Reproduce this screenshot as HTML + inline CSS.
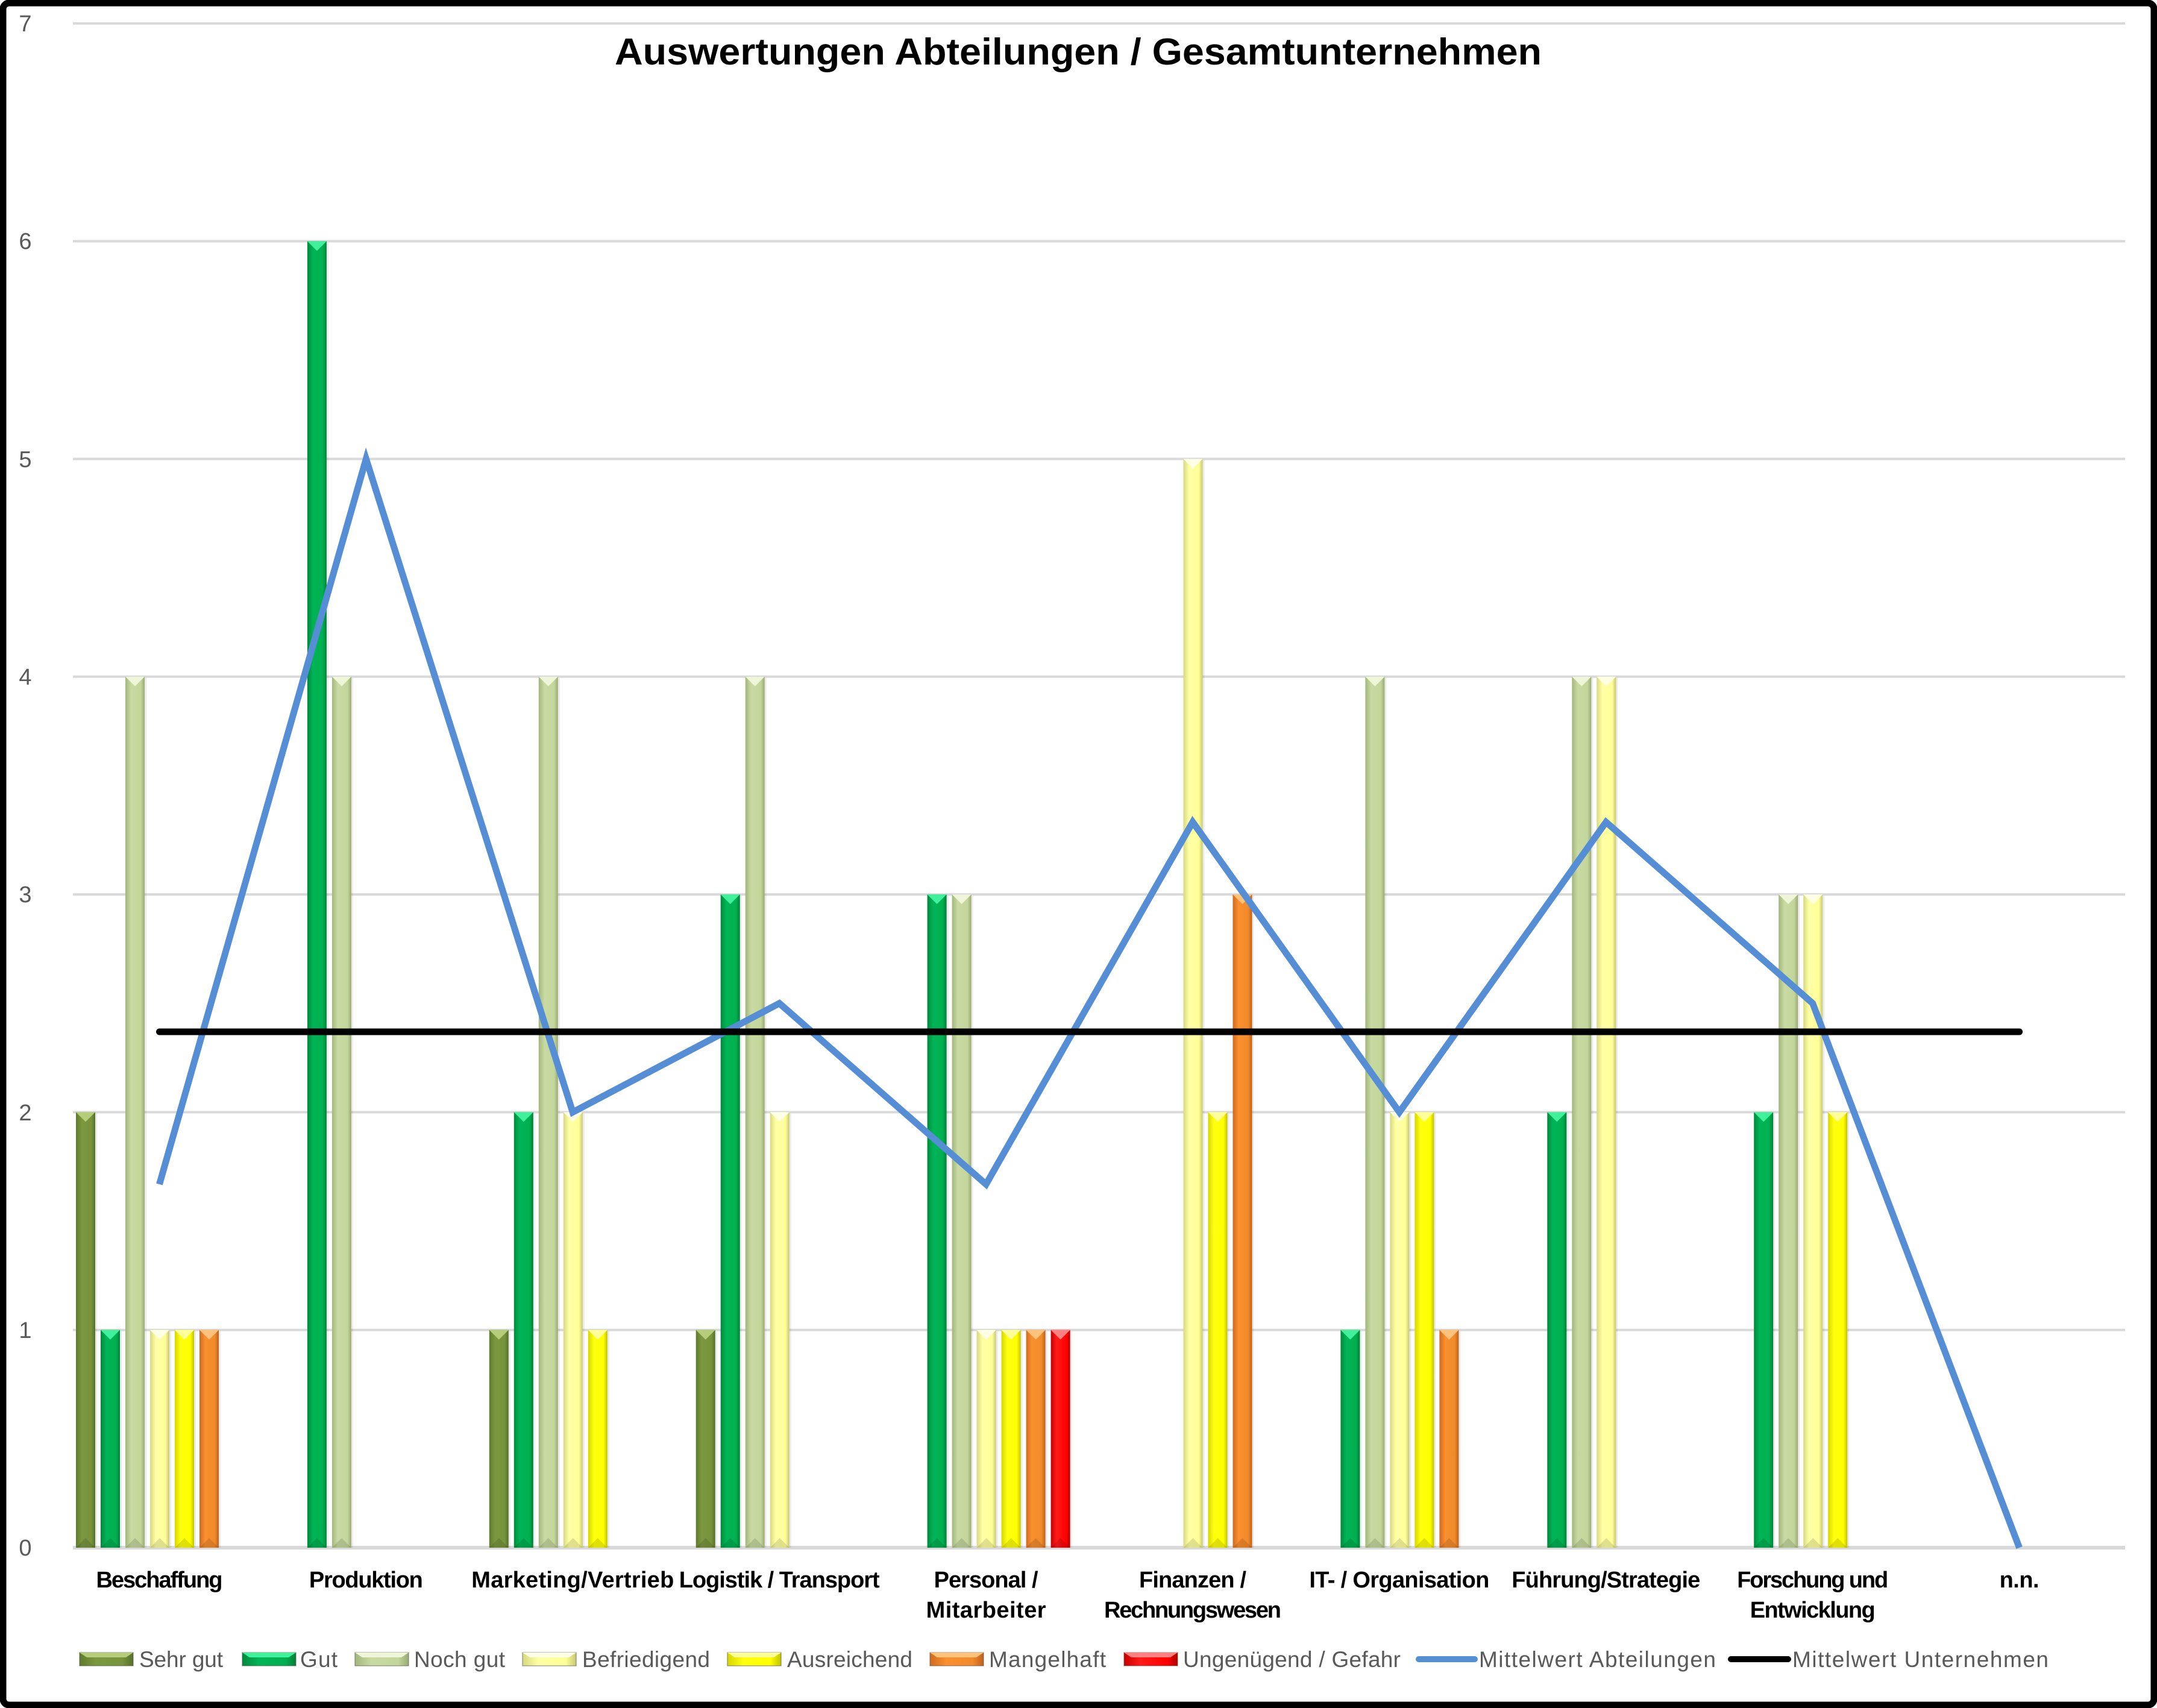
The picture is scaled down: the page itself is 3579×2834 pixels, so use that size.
<!DOCTYPE html>
<html><head><meta charset="utf-8"><style>
html,body{margin:0;padding:0;background:#fff;}
svg{display:block;}
</style></head><body>
<svg id="s" width="3579" height="2834" viewBox="0 0 3579 2834" xmlns="http://www.w3.org/2000/svg">
<defs>
<linearGradient id="g0" x1="0" x2="1"><stop offset="0" stop-color="#5f7a2c"/><stop offset="0.3" stop-color="#7b9840"/><stop offset="0.8" stop-color="#77933c"/><stop offset="1" stop-color="#55702a"/></linearGradient>
<linearGradient id="g1" x1="0" x2="1"><stop offset="0" stop-color="#008a3c"/><stop offset="0.3" stop-color="#00b456"/><stop offset="0.8" stop-color="#00b050"/><stop offset="1" stop-color="#007f38"/></linearGradient>
<linearGradient id="g2" x1="0" x2="1"><stop offset="0" stop-color="#a3b67c"/><stop offset="0.3" stop-color="#c8daa2"/><stop offset="0.8" stop-color="#c3d69b"/><stop offset="1" stop-color="#9aab73"/></linearGradient>
<linearGradient id="g3" x1="0" x2="1"><stop offset="0" stop-color="#d8d880"/><stop offset="0.3" stop-color="#ffffa6"/><stop offset="0.8" stop-color="#ffff99"/><stop offset="1" stop-color="#c8c872"/></linearGradient>
<linearGradient id="g4" x1="0" x2="1"><stop offset="0" stop-color="#d6d600"/><stop offset="0.3" stop-color="#ffff10"/><stop offset="0.8" stop-color="#ffff00"/><stop offset="1" stop-color="#c2c200"/></linearGradient>
<linearGradient id="g5" x1="0" x2="1"><stop offset="0" stop-color="#d06a20"/><stop offset="0.3" stop-color="#fa9030"/><stop offset="0.8" stop-color="#f08a2a"/><stop offset="1" stop-color="#c0601a"/></linearGradient>
<linearGradient id="g6" x1="0" x2="1"><stop offset="0" stop-color="#c80000"/><stop offset="0.3" stop-color="#ff1a1a"/><stop offset="0.8" stop-color="#ff0000"/><stop offset="1" stop-color="#b00000"/></linearGradient>
</defs>
<rect x="0" y="0" width="3579" height="2834" fill="#fff"/>
<g stroke="#d9d9d9" stroke-width="4">
<line x1="121" x2="3526" y1="38.9" y2="38.9"/>
<line x1="121" x2="3526" y1="400.2" y2="400.2"/>
<line x1="121" x2="3526" y1="761.5" y2="761.5"/>
<line x1="121" x2="3526" y1="1122.8" y2="1122.8"/>
<line x1="121" x2="3526" y1="1484.1" y2="1484.1"/>
<line x1="121" x2="3526" y1="1845.4" y2="1845.4"/>
<line x1="121" x2="3526" y1="2206.7" y2="2206.7"/>
<line x1="121" x2="3526" y1="2568" y2="2568" stroke-width="6"/>
</g>
<g font-family="Liberation Sans, sans-serif" font-size="38" fill="#595959" text-anchor="middle">
<text x="42" y="52">7</text><text x="42" y="413">6</text><text x="42" y="775">5</text><text x="42" y="1136">4</text><text x="42" y="1497">3</text><text x="42" y="1859">2</text><text x="42" y="2220">1</text><text x="42" y="2581">0</text>
</g>
<g id="bars"></g>
<polyline fill="none" stroke="#558ed5" stroke-width="11" stroke-linejoin="miter" points="264.5,1965 607.4,761.5 950.3,1845.4 1293.2,1664.8 1636.1,1965 1979,1364 2321.9,1845.4 2664.8,1364 3007.7,1664.8 3350.6,2568"/>
<line x1="264.5" x2="3350.6" y1="1712" y2="1712" stroke="#000" stroke-width="11" stroke-linecap="round"/>
<text x="1789" y="107" font-family="Liberation Sans, sans-serif" font-weight="bold" font-size="62" text-anchor="middle" textLength="1538" lengthAdjust="spacingAndGlyphs">Auswertungen Abteilungen / Gesamtunternehmen</text>
<g font-family="Liberation Sans, sans-serif" font-weight="bold" font-size="38" text-anchor="middle" lengthAdjust="spacingAndGlyphs">
<text x="264.5" y="2634" textLength="210">Beschaffung</text>
<text x="607.4" y="2634" textLength="189">Produktion</text>
<text x="950.3" y="2634" textLength="336">Marketing/Vertrieb</text>
<text x="1293.2" y="2634" textLength="333">Logistik / Transport</text>
<text x="1636.1" y="2634" textLength="173">Personal /</text>
<text x="1636.1" y="2684" textLength="199">Mitarbeiter</text>
<text x="1979" y="2634" textLength="178">Finanzen /</text>
<text x="1979" y="2684" textLength="294">Rechnungswesen</text>
<text x="2321.9" y="2634" textLength="299">IT- / Organisation</text>
<text x="2664.8" y="2634" textLength="313">Führung/Strategie</text>
<text x="3007.7" y="2634" textLength="251">Forschung und</text>
<text x="3007.7" y="2684" textLength="208">Entwicklung</text>
<text x="3350.6" y="2634" textLength="66">n.n.</text>
</g>
<g id="leg"></g>
<g font-family="Liberation Sans, sans-serif" font-size="37" fill="#595959" lengthAdjust="spacingAndGlyphs">
<text x="231" y="2766" textLength="139">Sehr gut</text>
<text x="498" y="2766" textLength="62">Gut</text>
<text x="687" y="2766" textLength="151">Noch gut</text>
<text x="966" y="2766" textLength="212">Befriedigend</text>
<text x="1306" y="2766" textLength="208">Ausreichend</text>
<text x="1641" y="2766" textLength="194">Mangelhaft</text>
<text x="1963" y="2766" textLength="361">Ungenügend / Gefahr</text>
<text x="2454" y="2766" textLength="393">Mittelwert Abteilungen</text>
<text x="2974" y="2766" textLength="425">Mittelwert Unternehmen</text>
</g>
<line x1="2354" x2="2447" y1="2753" y2="2753" stroke="#558ed5" stroke-width="10" stroke-linecap="round"/>
<line x1="2872" x2="2967" y1="2753" y2="2753" stroke="#000" stroke-width="10" stroke-linecap="round"/>
<rect x="5" y="5" width="3569" height="2824" rx="10" fill="none" stroke="#000" stroke-width="11"/>
</svg>
<script>
var NS="http://www.w3.org/2000/svg";
var tops=["#b5cc7a","#40f09a","#eef5d8","#ffffe6","#ffff9a","#ffc27a","#ff8080"];
var data=[[2,1,4,1,1,1,0],[0,6,4,0,0,0,0],[1,2,4,2,1,0,0],[1,3,4,2,0,0,0],[0,3,3,1,1,1,1],[0,0,0,5,2,3,0],[0,1,4,2,2,1,0],[0,2,4,4,0,0,0],[0,2,3,3,2,0,0],[0,0,0,0,0,0,0]];
var g=document.getElementById("bars");
function el(n,a){var e=document.createElementNS(NS,n);for(var k in a)e.setAttribute(k,a[k]);return e;}
for(var i=0;i<10;i++){var c=264.5+342.9*i;for(var j=0;j<7;j++){var v=data[i][j];if(!v)continue;
var x=c-138.5+41*j,y=2568-361.3*v,w=32;
g.appendChild(el("rect",{x:x+3,y:y+2,width:w,height:2568-y-2,fill:"#000",opacity:0.08}));
g.appendChild(el("rect",{x:x,y:y,width:w,height:2568-y,fill:"url(#g"+j+")"}));
g.appendChild(el("polygon",{points:x+","+y+" "+(x+w)+","+y+" "+(x+w/2)+","+(y+16),fill:tops[j]}));
g.appendChild(el("polygon",{points:x+","+(2568)+" "+(x+w)+","+(2568)+" "+(x+w/2)+","+(2552),fill:"#000",opacity:0.12}));
}}
var lg=document.getElementById("leg");
var lx=[132,402,589,867,1207,1543,1865];
for(var j=0;j<7;j++){var x=lx[j],w=89,y=2742,h=22;
lg.appendChild(el("rect",{x:x,y:y,width:w,height:h,fill:"url(#g"+j+")",stroke:"#555",'stroke-width':1.5,'stroke-opacity':0.5}));
lg.appendChild(el("polygon",{points:x+","+y+" "+(x+w)+","+y+" "+(x+w-12)+","+(y+8)+" "+(x+12)+","+(y+8),fill:tops[j]}));
}
</script>
</body></html>
